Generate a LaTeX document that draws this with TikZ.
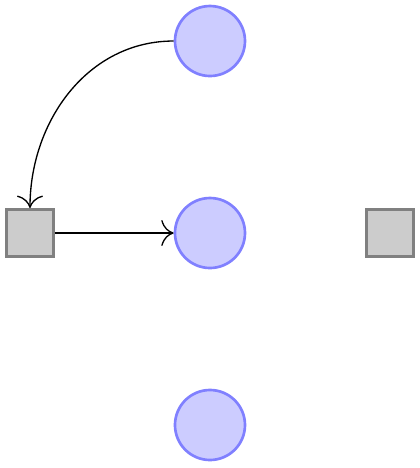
\documentclass[tikz,border=0pt]{standalone}
\usepackage{tikz}
\usetikzlibrary{arrows.meta}

\begin{document}
\begin{tikzpicture}[node distance=57.6pt,>={To[scale=1.5]},
    place/.style={circle,draw=blue!50,fill=blue!20,thick,minimum size=21pt,inner sep=0pt},
    transition/.style={rectangle,draw=black!50,fill=black!20,thick,minimum size=14.2pt,inner sep=0pt}]
    \useasboundingbox (-63pt,12.3pt) rectangle (63pt,-128.1pt);
    \node[place] (1) {};
    \node[place,below of=1] (2) {};
    \node[place,below of=2] (3) {};
    \node[transition,left of=2,xshift=3.6pt] (4) {};
    \node[transition,right of=2,xshift=-3.6pt] (5) {};

    %% pre
    \draw[->] (1) to[out=180,in=90] (4);
    %% post
    \draw[->] (4) -- (2);
  \end{tikzpicture}
\end{document}
